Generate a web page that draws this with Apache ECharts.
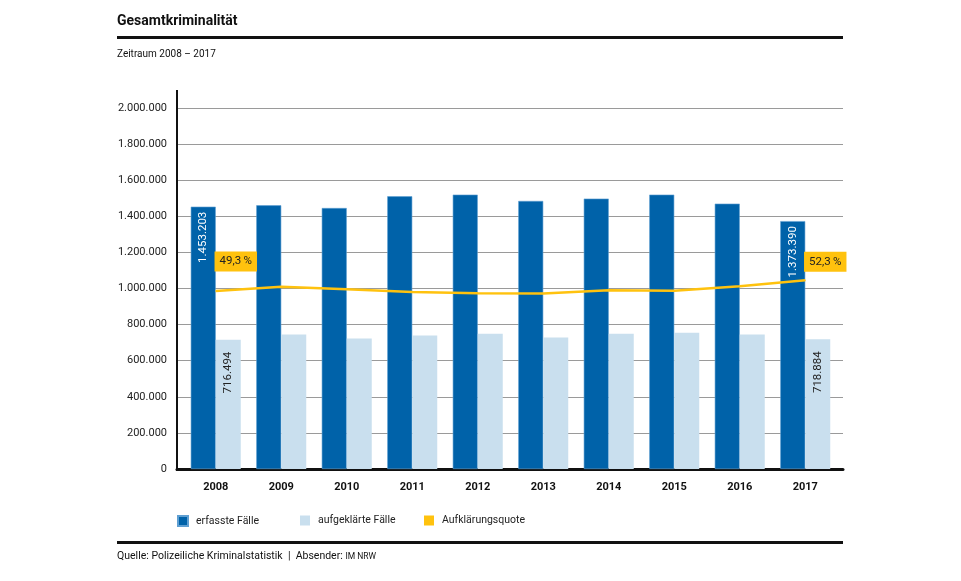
<!DOCTYPE html>
<html><head><meta charset="utf-8">
<script src="https://cdn.jsdelivr.net/npm/echarts@6/dist/echarts.min.js"></script>
<style>html,body{margin:0;padding:0;background:#fff}#c{width:961px;height:581px}</style>
</head><body><div id="c"></div>
<script>
const years = ['2008','2009','2010','2011','2012','2013','2014','2015','2016','2017'];
const erfasst = [1453203, 1461000, 1446000, 1511000, 1520000, 1485000, 1498000, 1520000, 1470000, 1373390];
const aufgeklaert = [716494, 745000, 723000, 740000, 750000, 728000, 750000, 755000, 745000, 718884];
const quote = [49.3, 50.5, 49.8, 49.0, 48.7, 48.6, 49.5, 49.4, 50.6, 52.3];
const seriesNames = ['erfasste Fälle', 'aufgeklärte Fälle', 'Aufklärungsquote'];
const labelledIdx = [0, 9];

const FONT = 'Roboto, "Liberation Sans", sans-serif';
const fmt = v => String(Math.round(v)).replace(/\B(?=(\d{3})+(?!\d))/g, '.');
const DARK = '#0062A9', LIGHT = '#C9DFEE', YEL = '#FFC20E';

const erfData = erfasst.map((v, i) => labelledIdx.includes(i) ? {
  value: v,
  label: { show: true, position: 'insideTop', rotate: 90, align: 'right', verticalAlign: 'middle',
    distance: 5, color: '#fff', fontSize: 11.5, fontFamily: FONT, formatter: p => fmt(p.value) }
} : v);
const aufData = aufgeklaert.map((v, i) => labelledIdx.includes(i) ? {
  value: v,
  label: { show: true, position: 'insideTop', rotate: 90, align: 'right', verticalAlign: 'middle',
    distance: 12, color: '#222', fontSize: 11.5, fontFamily: FONT, formatter: p => fmt(p.value) }
} : v);
const quoteData = quote.map((v, i) => labelledIdx.includes(i) ? {
  value: v,
  label: { show: true, position: 'top', distance: 0, offset: i === 0 ? [20, -19] : [20, -8],
    backgroundColor: YEL, padding: [4, 5, 4, 5], color: '#222', fontSize: 11.5, fontFamily: FONT,
    formatter: p => String(p.value.toFixed(1)).replace('.', ',') + '\u2009%' }
} : v);

const legendText = { fontSize: 10.5, color: '#222', fontFamily: FONT, padding: [0, 0, 0, 3] };

const chart = echarts.init(document.getElementById('c'), null, { renderer: 'canvas' });
chart.setOption({
  animation: false,
  backgroundColor: '#fff',
  textStyle: { fontFamily: FONT },
  grid: [
    { left: 177, right: 118, top: 108, bottom: 112 },
    { left: 183, right: 123, top: 108, bottom: 112 }
  ],
  xAxis: [
    { gridIndex: 0, type: 'value', min: 0, max: 1, axisLabel: { show: false }, axisTick: { show: false },
      splitLine: { show: false }, axisLine: { show: true, lineStyle: { color: '#111', width: 3 } } },
    { gridIndex: 1, type: 'category', data: years, axisLine: { show: false }, axisTick: { show: false },
      axisLabel: { margin: 13, fontSize: 11, fontWeight: 'bold', color: '#111', fontFamily: FONT } }
  ],
  yAxis: [
    { gridIndex: 0, type: 'value', min: 0, max: 2000000, interval: 200000,
      axisLine: { show: false }, axisTick: { show: false },
      axisLabel: { margin: 10, fontSize: 11, color: '#222', fontFamily: FONT, formatter: v => fmt(v) },
      splitLine: { lineStyle: { color: '#9a9a9a', width: 1.2 } } },
    { gridIndex: 1, type: 'value', min: 0, max: 2000000, show: false },
    { gridIndex: 1, type: 'value', min: 0, max: 100, show: false }
  ],
  legend: [
    { data: [seriesNames[0]], left: 177, top: 515, padding: 0, itemWidth: 10, itemHeight: 10, icon: 'rect',
      textStyle: legendText },
    { data: [seriesNames[1]], left: 300, top: 515, padding: 0, itemWidth: 10, itemHeight: 10, icon: 'rect',
      textStyle: legendText },
    { data: [seriesNames[2]], left: 424, top: 515, padding: 0, itemWidth: 10, itemHeight: 10, icon: 'rect',
      itemStyle: { color: YEL }, textStyle: legendText }
  ],
  series: [
    { name: seriesNames[0], type: 'bar', xAxisIndex: 1, yAxisIndex: 1, data: erfData, barWidth: 25, barGap: '0%',
      itemStyle: { color: DARK, borderColor: '#5f9fd2', borderWidth: 0.6 } },
    { name: seriesNames[1], type: 'bar', xAxisIndex: 1, yAxisIndex: 1, data: aufData, barWidth: 25, barGap: '0%',
      itemStyle: { color: LIGHT } },
    { name: seriesNames[2], type: 'line', xAxisIndex: 1, yAxisIndex: 2, data: quoteData, z: 5,
      symbol: 'circle', symbolSize: 1, showSymbol: true, itemStyle: { color: YEL },
      lineStyle: { color: YEL, width: 2.5 } }
  ],
  graphic: [
    { type: 'text', left: 117, top: 14, style: { text: 'Gesamtkriminalität', font: 'bold 14px ' + FONT, fill: '#111' } },
    { type: 'rect', shape: { x: 117, y: 36, width: 726, height: 3 }, style: { fill: '#111' } },
    { type: 'text', left: 117, top: 49, style: { text: 'Zeitraum 2008 – 2017', font: '10px ' + FONT, fill: '#111' } },
    { type: 'line', shape: { x1: 177, y1: 90, x2: 177, y2: 471 }, style: { stroke: '#111', lineWidth: 2 }, z: 10 },
    { type: 'rect', shape: { x: 117, y: 541, width: 726, height: 3 }, style: { fill: '#111' } },
    { type: 'text', left: 117, top: 551, style: {
        text: '{a|Quelle: Polizeiliche Kriminalstatistik  |  Absender: }{b|IM NRW}',
        rich: { a: { font: '10.5px ' + FONT, fill: '#111' }, b: { font: '8.5px ' + FONT, fill: '#111' } } } }
  ]
});
</script></body></html>
